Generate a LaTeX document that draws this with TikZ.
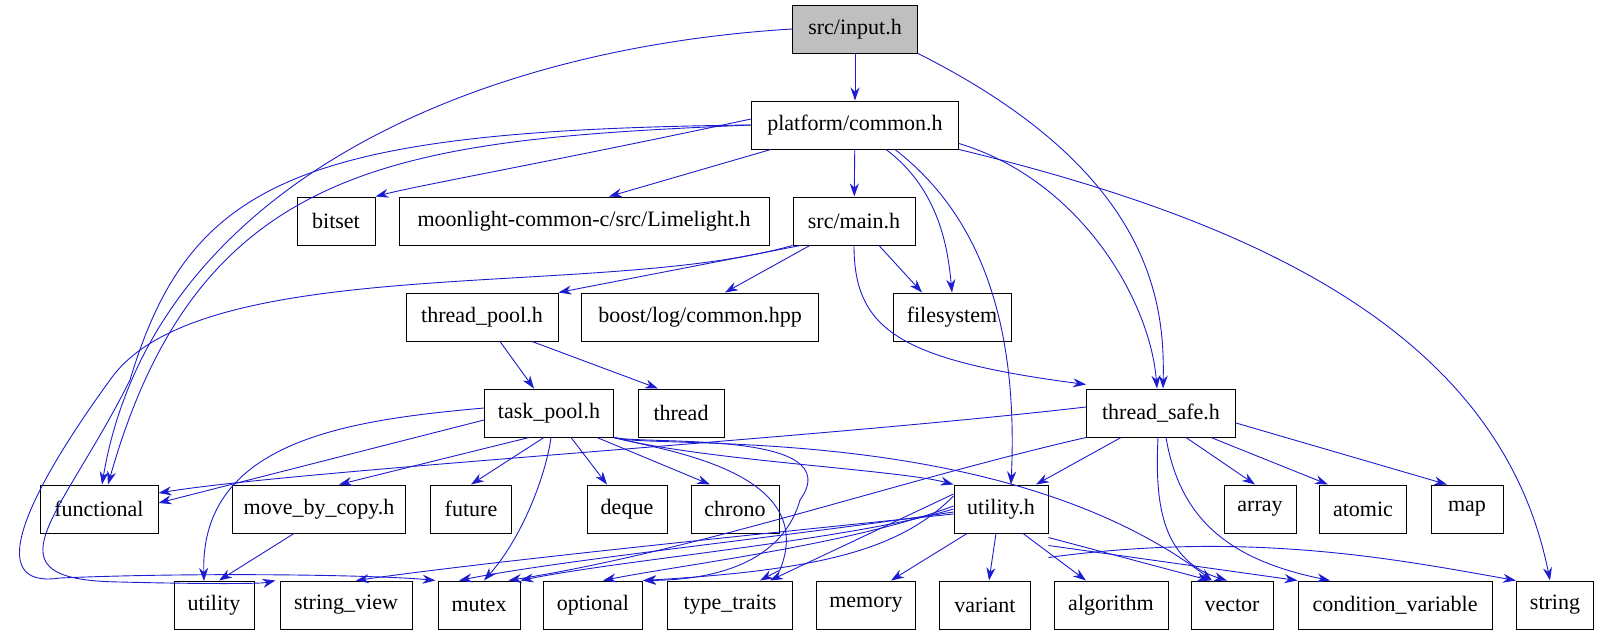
\documentclass[tikz,border=0pt]{standalone}
\usepackage{fontspec}
\setmainfont{Liberation Serif}
\usetikzlibrary{arrows.meta}
\definecolor{edgeblue}{RGB}{28,28,208}
\definecolor{rootgray}{RGB}{191,191,191}
\begin{document}
\begin{tikzpicture}[x=1pt,y=-1pt,
  box/.style={draw=black,line width=1pt,fill=white,minimum height=48pt,inner sep=0pt,font=\fontsize{22}{24}\selectfont},
  edge/.style={draw=edgeblue,line width=0.9pt,-{Stealth[length=13pt,width=9pt]}}]
\useasboundingbox (0,0) rectangle (1607,635);
% row 0-2
\node[box,fill=rootgray,minimum width=125pt] (input) at (855,29) {src/input.h};
\node[box,minimum width=207pt] (plat) at (855,125) {platform/common.h};
\node[box,minimum width=78pt] (bitset) at (336,221) {bitset};
\node[box,minimum width=370pt] (moon) at (584,221) {moonlight-common-c/src/Limelight.h};
\node[box,minimum width=122pt] (main) at (854,221) {src/main.h};
\node[box,minimum width=152pt] (tpool) at (482,317) {thread\_pool.h};
\node[box,minimum width=237pt] (boost) at (700,317) {boost/log/common.hpp};
\node[box,minimum width=118pt] (fs) at (952,317) {filesystem};
% row 3
\node[box,minimum width=129pt] (task) at (549,413) {task\_pool.h};
\node[box,minimum width=86pt] (thread) at (681,413) {thread};
\node[box,minimum width=149pt] (tsafe) at (1161,413) {thread\_safe.h};
% row 4
\node[box,minimum width=118pt] (functional) at (99,509) {functional};
\node[box,minimum width=173pt] (mbc) at (319,509) {move\_by\_copy.h};
\node[box,minimum width=81pt] (future) at (471,509) {future};
\node[box,minimum width=80pt] (deque) at (627,509) {deque};
\node[box,minimum width=88pt] (chrono) at (735,509) {chrono};
\node[box,minimum width=94pt] (util) at (1001,509) {utility.h};
\node[box,minimum width=72pt] (array) at (1260,509) {array};
\node[box,minimum width=87pt] (atomic) at (1363,509) {atomic};
\node[box,minimum width=72pt] (map) at (1467,509) {map};
% row 5
\node[box,minimum width=80pt] (utility) at (214,605) {utility};
\node[box,minimum width=132pt] (sview) at (346,605) {string\_view};
\node[box,minimum width=82pt] (mutex) at (479,605) {mutex};
\node[box,minimum width=99pt] (optional) at (593,605) {optional};
\node[box,minimum width=125pt] (ttraits) at (730,605) {type\_traits};
\node[box,minimum width=99pt] (memory) at (866,605) {memory};
\node[box,minimum width=91pt] (variant) at (985,605) {variant};
\node[box,minimum width=114pt] (algorithm) at (1111,605) {algorithm};
\node[box,minimum width=82pt] (vector) at (1232,605) {vector};
\node[box,minimum width=194pt] (condvar) at (1395,605) {condition\_variable};
\node[box,minimum width=77pt] (string) at (1555,605) {string};
% input.h
\draw[edge] (input) -- (plat);
\draw[edge] (input.west) .. controls (450,50) and (150,200) .. ([xshift=3pt]functional.north);
\draw[edge] (input.south east) .. controls (1150,170) and (1165,300) .. ([xshift=2pt]tsafe.north);
% platform/common.h
\draw[edge] (plat.west) .. controls (400,140) and (200,160) .. ([xshift=9pt]functional.north);
\draw[edge] (plat.west) .. controls (300,130) and (190,180) .. (130,380) .. controls (60,520) and (-20,580) .. (120,582) .. controls (200,584) and (260,584) .. ([xshift=-4pt]sview.north west);
\draw[edge] ([yshift=6pt]plat.west) .. controls (560,160) and (420,185) .. (bitset.north east);
\draw[edge] (plat) -- ([xshift=25pt]moon.north);
\draw[edge] (plat) -- (main);
\draw[edge] (plat.south) ++(31,0) .. controls (940,190) and (948,250) .. (fs.north);
\draw[edge] (plat.south) ++(40,0) .. controls (960,200) and (1020,290) .. ([xshift=10pt]util.north);
\draw[edge] (plat.south east) ++(0,-6) .. controls (1080,180) and (1150,300) .. ([xshift=-4pt]tsafe.north);
\draw[edge] (plat.south east) .. controls (1250,220) and (1500,330) .. ([xshift=-5pt]string.north);
% src/main.h
\draw[edge] (main.south west) .. controls (600,300) and (200,250) .. (110,380) .. controls (30,490) and (-20,590) .. (60,578) .. controls (200,572) and (380,575) .. ([xshift=-2pt]mutex.north west);
\draw[edge] (main.south west) ++(8,0) -- (tpool.north east);
\draw[edge] (main) -- ([xshift=25pt]boost.north);
\draw[edge] (main.south) ++(25,0) -- ([xshift=-30pt]fs.north);
\draw[edge] (main.south) .. controls (854,330) and (900,360) .. ([yshift=4pt]tsafe.north west);
% thread_pool.h
\draw[edge] ([xshift=18pt]tpool.south) -- ([xshift=-15pt]task.north);
\draw[edge] ([xshift=50pt]tpool.south) -- ([xshift=-23pt]thread.north);
% task_pool.h
\draw[edge] (task.west) ++(0,7) -- ([yshift=6pt]functional.east);
\draw[edge] (task.west) ++(0,-5) .. controls (350,420) and (200,440) .. (204,581);
\draw[edge] ([xshift=-20pt]task.south) -- ([xshift=20pt]mbc.north);
\draw[edge] ([xshift=-5pt]task.south) -- (future.north);
\draw[edge] ([xshift=2pt]task.south) .. controls (545,480) and (520,540) .. ([xshift=5pt]mutex.north);
\draw[edge] ([xshift=22pt]task.south) -- ([xshift=-20pt]deque.north);
\draw[edge] ([xshift=48pt]task.south) -- ([xshift=-25pt]chrono.north);
\draw[edge] (task.south east) .. controls (700,460) and (900,470) .. (util.north west);
\draw[edge] (task.south east) .. controls (650,450) and (1000,420) .. ([xshift=-20pt]vector.north);
\draw[edge] (task.south east) .. controls (650,445) and (850,430) .. (800,500) .. controls (780,570) and (700,580) .. (optional.north east);
\draw[edge] (task.south east) .. controls (660,450) and (820,470) .. (780,570) -- ([xshift=30pt]ttraits.north);
% move_by_copy.h
\draw[edge] ([xshift=-25pt]mbc.south) -- ([xshift=5pt]utility.north);
% thread_safe.h
\draw[edge] ([yshift=6pt]tsafe.west) .. controls (800,440) and (300,470) .. ([yshift=16pt]functional.east);
\draw[edge] (tsafe.south west) .. controls (900,480) and (700,550) .. ([xshift=-12pt]mutex.north east);
\draw[edge] ([xshift=-40pt]tsafe.south) -- ([xshift=35pt]util.north);
\draw[edge] ([xshift=-3pt]tsafe.south) .. controls (1155,500) and (1160,560) .. ([xshift=-5pt]vector.north);
\draw[edge] ([xshift=5pt]tsafe.south) .. controls (1180,520) and (1230,560) .. ([xshift=-65pt]condvar.north);
\draw[edge] ([xshift=25pt]tsafe.south) -- ([xshift=-5pt]array.north);
\draw[edge] ([xshift=50pt]tsafe.south) -- ([xshift=-35pt]atomic.north);
\draw[edge] (tsafe.east) ++(0,10) -- ([xshift=-20pt]map.north);
% utility.h
\draw[edge] ([yshift=-5pt]util.west) .. controls (800,530) and (500,560) .. ([xshift=10pt]sview.north);
\draw[edge] ([yshift=-3pt]util.west) .. controls (800,535) and (560,560) .. ([xshift=-20pt]mutex.north);
\draw[edge] ([yshift=0pt]util.west) .. controls (850,540) and (620,560) .. (mutex.north east);
\draw[edge] ([yshift=3pt]util.west) .. controls (850,545) and (680,565) .. ([xshift=-40pt]optional.north east);
\draw[edge] ([yshift=13pt]util.west) .. controls (900,550) and (820,570) .. (optional.north east);
\draw[edge] ([yshift=15pt]util.west) -- ([xshift=40pt]ttraits.north);
\draw[edge] ([xshift=-34pt]util.south) -- ([xshift=25pt]memory.north);
\draw[edge] ([xshift=-5pt]util.south) -- ([xshift=4pt]variant.north);
\draw[edge] ([xshift=22pt]util.south) -- ([xshift=-25pt]algorithm.north);
\draw[edge] ([yshift=-4pt]util.south east) -- ([xshift=-22pt]vector.north);
\draw[edge] ([yshift=-12pt]util.south east) -- (condvar.north west);
\draw[edge] ([yshift=-24pt]util.south east) .. controls (1250,530) and (1400,560) .. (string.north west);
\end{tikzpicture}
\end{document}
